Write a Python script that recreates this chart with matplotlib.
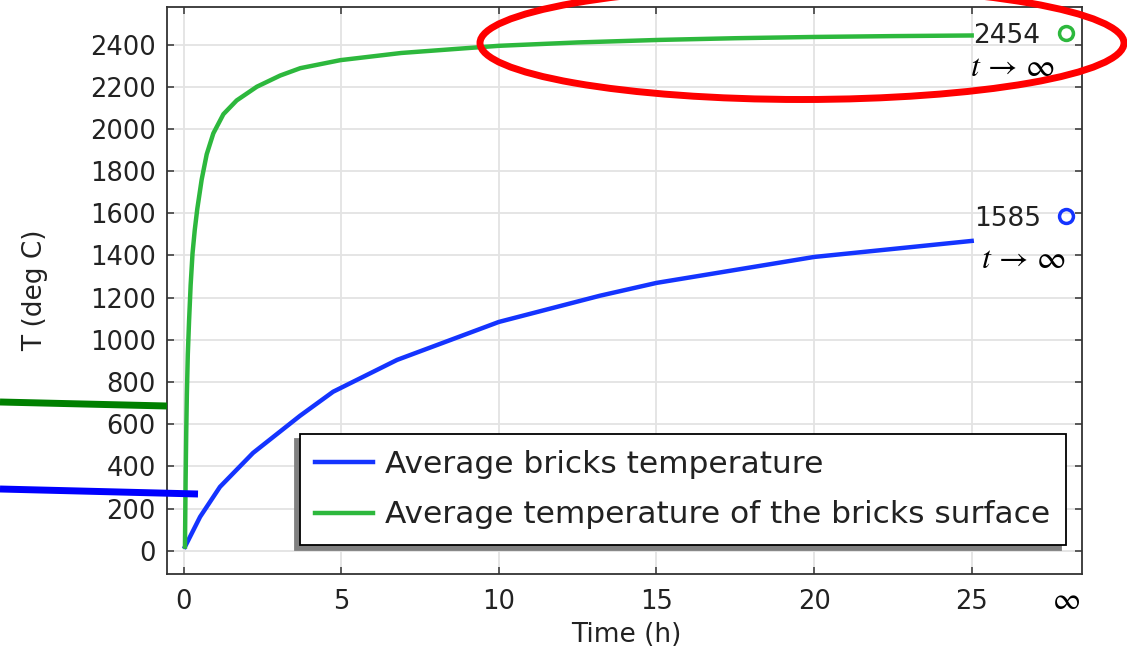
import matplotlib
matplotlib.use("Agg")
import matplotlib.pyplot as plt
from matplotlib.lines import Line2D
from matplotlib.patches import Ellipse

# Average bricks temperature (deg C) against time (h)
time_bricks = [0.04, 0.52, 1.15, 2.2, 3.69, 4.74, 6.77, 10, 13.2, 15, 20, 25]
temp_bricks = [19, 161, 303, 464, 640, 754, 905, 1085, 1209, 1270, 1393, 1469]

# Average temperature of the bricks surface
time_surface = [0.04, 0.06, 0.08, 0.1, 0.13, 0.17, 0.22, 0.28, 0.35, 0.43, 0.57, 0.73, 0.94,
                1.26, 1.68, 2.32, 3.06, 3.7, 4.97, 6.9, 8.8, 10, 12.5, 15.1, 17.5, 20, 22.5, 25]
temp_surface = [20, 330, 560, 740, 930, 1090, 1260, 1410, 1520, 1620, 1760, 1880, 1979,
                2070, 2135, 2200, 2253, 2288, 2326, 2360, 2381, 2394, 2410, 2422, 2430, 2436, 2440, 2443]

# steady state (t -> infinity), shown at a fake time position
t_inf = 28
steady_bricks = 1585
steady_surface = 2454

x_ticks = [0, 5, 10, 15, 20, 25]
y_ticks = list(range(0, 2401, 200))

BLUE = "#1434ff"
GREEN = "#2db83d"
TXT = "#222222"

plt.rcParams["font.family"] = ["DejaVu Sans"]
plt.rcParams["mathtext.fontset"] = "stix"

fig = plt.figure(figsize=(11.27, 6.46), dpi=100)
ax = fig.add_axes([167 / 1127, 1 - 574 / 646, 915 / 1127, 567 / 646])

ax.plot(time_bricks, temp_bricks, color=BLUE, lw=3.2, label="Average bricks temperature", zorder=3)
ax.plot(time_surface, temp_surface, color=GREEN, lw=3.2,
        label="Average temperature of the bricks surface", zorder=3)

# steady-state markers
ax.plot([t_inf], [steady_surface], "o", mfc="none", mec=GREEN, mew=2.5, ms=10, clip_on=False, zorder=4)
ax.plot([t_inf], [steady_bricks], "o", mfc="none", mec=BLUE, mew=2.5, ms=10, clip_on=False, zorder=4)
ax.annotate(str(steady_surface), (t_inf, steady_surface), xytext=(-19, 0), textcoords="offset points",
            ha="right", va="center_baseline", fontsize=19, color=TXT)
ax.annotate(str(steady_bricks), (t_inf, steady_bricks), xytext=(-18, 0), textcoords="offset points",
            ha="right", va="center_baseline", fontsize=19, color=TXT)
ax.annotate(r"$t\,\rightarrow\,\infty$", (t_inf, steady_surface), xytext=(-39, -25),
            textcoords="offset points", ha="center", va="center", fontsize=23, color="black")
ax.annotate(r"$t\,\rightarrow\,\infty$", (t_inf, steady_bricks), xytext=(-31, -31),
            textcoords="offset points", ha="center", va="center", fontsize=23, color="black")

ax.set_xlim(-0.53, 28.5)
ax.set_ylim(-110, 2578)

ax.set_xticks(x_ticks)
ax.set_yticks(y_ticks)
# infinity label on the time axis, no tick mark there
ax.text(t_inf, -0.046, r"$\infty$", transform=ax.get_xaxis_transform(),
        ha="center", va="center", fontsize=22, color="black")

ax.grid(True, color="#e3e3e3", lw=1.3, zorder=0)
ax.set_axisbelow(True)
ax.tick_params(direction="in", length=5, width=1.1, color="#333333", labelsize=18.5,
               labelcolor=TXT, top=True, right=True)
ax.tick_params(axis="x", pad=11)
ax.tick_params(axis="y", pad=8)

for s in ax.spines.values():
    s.set_color("#333333")
    s.set_linewidth(1.3)

ax.set_xlabel("Time (h)", fontsize=19, color=TXT)
ax.set_ylabel("T (deg C)", fontsize=19, color=TXT)
ax.xaxis.set_label_coords(0.502, -0.085)
ax.yaxis.set_label_coords(-0.130, 0.5)

leg = ax.legend(loc="lower right", bbox_to_anchor=(0.9825, 0.051), borderaxespad=0,
                fontsize=22.5, frameon=True, fancybox=False, framealpha=1, edgecolor="black",
                handlelength=1.86, handletextpad=0.38, labelspacing=0.7, borderpad=0.5,
                shadow={"ox": -3.6, "oy": -3.6, "shade": 0.5, "alpha": 1})
leg.get_frame().set_linewidth(1.3)
for t in leg.get_texts():
    t.set_color(TXT)

# hand-drawn markers on top of the chart
fig.add_artist(Line2D([0, 167 / 1127], [1 - 402 / 646, 1 - 406 / 646], transform=fig.transFigure,
                      color="#008000", lw=5, solid_capstyle="butt", zorder=10))
fig.add_artist(Line2D([0, 198 / 1127], [1 - 489 / 646, 1 - 494 / 646], transform=fig.transFigure,
                      color="#0000ff", lw=5, solid_capstyle="butt", zorder=10))
fig.add_artist(Ellipse((802 / 1127, 1 - 43 / 646), 644 / 1127, 113 / 646, transform=fig.transFigure,
                       fill=False, edgecolor="#ff0000", lw=5, zorder=10))

fig.savefig("out.png", dpi=100)
